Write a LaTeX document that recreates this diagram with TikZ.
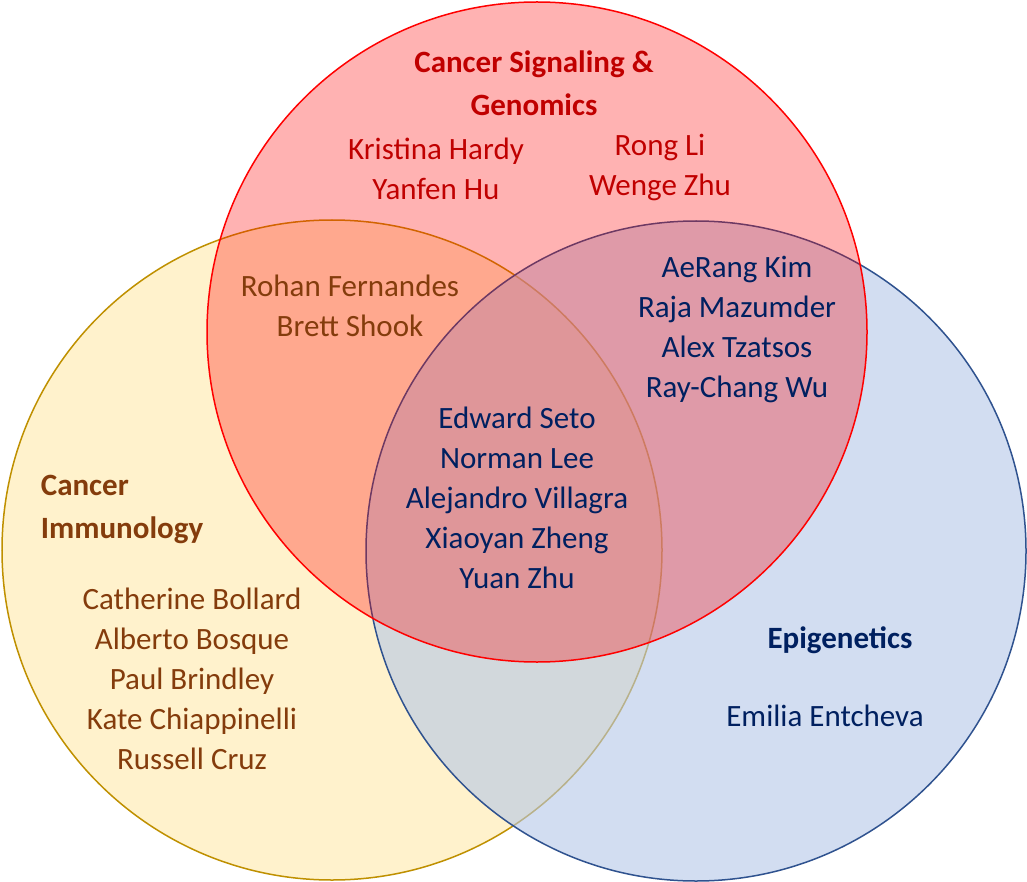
\documentclass[tikz,border=0pt]{standalone}
\usepackage{fontspec}
\setmainfont{Carlito}
\definecolor{rtx}{HTML}{C00000}
\definecolor{btx}{HTML}{843C0C}
\definecolor{ntx}{HTML}{002060}
\begin{document}
\begin{tikzpicture}[x=1pt,y=-1pt,
 lab/.style={align=center,font=\fontsize{31}{40}\selectfont},
 ttl/.style={align=center,font=\fontsize{31}{43}\selectfont\bfseries}]
\useasboundingbox (0,0) rectangle (1027,882);
\filldraw[fill={rgb,255:red,255;green,242;blue,204},draw={rgb,255:red,191;green,144;blue,0},line width=1.5pt] (332,550) circle (330);
\filldraw[fill={rgb,255:red,180;green,199;blue,231},fill opacity=0.6,draw={rgb,255:red,47;green,82;blue,143},draw opacity=1,line width=1.5pt] (696,551) circle (330);
\filldraw[fill=red,fill opacity=0.3,draw=red,draw opacity=1,line width=1.5pt] (537,332) circle (330);
\node[ttl,text=rtx] (t1) at (534,83) {Cancer Signaling \&\\Genomics};
\node[ttl,text=btx,align=left] (t2) at (122,509) {Cancer\\Immunology};
\node[ttl,text=ntx] (t3) at (840,640) {Epigenetics};
\node[lab,text=rtx] (a) at (436,169) {Kristina Hardy\\Yanfen Hu};
\node[lab,text=rtx] (b) at (660,168) {Rong Li\\Wenge Zhu};
\node[lab,text=btx] (c) at (350,306) {Rohan Fernandes\\Brett Shook};
\node[lab,text=ntx] (d) at (737,329) {AeRang Kim\\Raja Mazumder\\Alex Tzatsos\\Ray-Chang Wu};
\node[lab,text=ntx] (e) at (517,498) {Edward Seto\\Norman Lee\\Alejandro Villagra\\Xiaoyan Zheng\\Yuan Zhu};
\node[lab,text=btx] (f) at (192,679) {Catherine Bollard\\Alberto Bosque\\Paul Brindley\\Kate Chiappinelli\\Russell Cruz};
\node[lab,text=ntx] (g) at (825,716) {Emilia Entcheva};
\end{tikzpicture}
\end{document}
